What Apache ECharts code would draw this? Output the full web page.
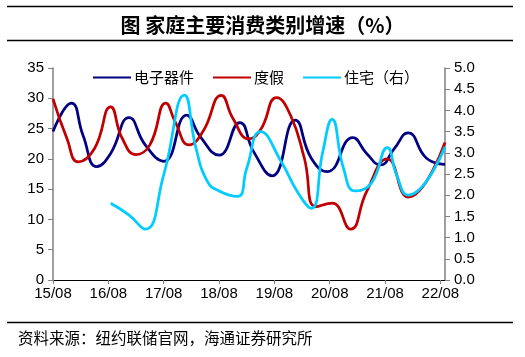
<!DOCTYPE html>
<html>
<head>
<meta charset="utf-8">
<script src="https://cdn.jsdelivr.net/npm/echarts@6/dist/echarts.min.js"></script>
<style>
html,body{margin:0;padding:0;background:#fff;}
#chart{width:525px;height:357px;}
</style>
</head>
<body>
<div id="chart"></div>
<script>
// ---- data ----
var titleText = '图 家庭主要消费类别增速（%）';
var sourceText = '资料来源：纽约联储官网，海通证券研究所';
var seriesNames = ['电子器件', '度假', '住宅（右）'];
var xTickLabels = ['15/08','16/08','17/08','18/08','19/08','20/08','21/08','22/08'];
var leftTicks = [0, 35, 5];
var rightTicks = [0, 5, 0.5];

var elecDates = ['2015-08-01','2015-12-01','2016-02-16','2016-05-16','2016-08-16','2016-12-16','2017-04-01','2017-08-01','2018-01-01','2018-04-01','2018-08-01','2018-12-16','2019-03-16','2019-07-16','2019-12-16','2020-04-01','2020-07-16','2021-01-01','2021-04-01','2021-07-01','2021-10-01','2022-01-01','2022-05-01','2022-09-01'];
var elecValues = [24.5, 29.2, 23.9, 18.7, 20.9, 26.8, 22.3, 19.6, 27.2, 23.6, 20.6, 26.0, 21.2, 17.2, 26.4, 20.1, 17.9, 23.5, 20.9, 19.0, 21.7, 24.3, 20.1, 19.1];

var vacDates = ['2015-08-01','2015-11-01','2016-01-16','2016-05-01','2016-08-16','2016-11-01','2017-02-01','2017-05-01','2017-08-16','2017-10-16','2018-01-16','2018-04-16','2018-08-16','2018-11-01','2019-02-16','2019-05-01','2019-08-16','2019-11-16','2020-02-16','2020-05-01','2020-08-16','2020-12-16','2021-04-01','2021-08-16','2022-01-01','2022-09-01'];
var vacValues = [29.9, 23.4, 19.5, 21.7, 28.6, 23.4, 20.7, 22.3, 29.2, 26.1, 22.3, 24.5, 30.5, 26.7, 23.3, 24.8, 30.1, 27.2, 20.1, 12.1, 12.7, 8.4, 14.6, 20.0, 13.7, 22.7];

var houseDates = ['2016-08-16','2016-12-16','2017-04-01','2017-08-01','2017-12-16','2018-03-01','2018-05-16','2018-08-01','2018-12-01','2019-02-01','2019-05-01','2019-09-16','2020-01-01','2020-04-01','2020-06-16','2020-08-16','2020-11-01','2021-01-16','2021-05-01','2021-08-16','2021-10-16','2022-01-01','2022-09-01'];
var houseValues = [1.81, 1.53, 1.20, 2.48, 4.36, 3.11, 2.32, 2.10, 1.97, 2.63, 3.50, 2.79, 2.08, 1.69, 3.03, 3.79, 2.63, 2.10, 2.28, 3.12, 2.48, 2.00, 3.14];

var axisStart = '2015-08-01';
var axisEnd = '2022-09-01';

// ---- helpers ----
function monthIndex(s) {
  var p = s.split('-').map(Number);
  var b = axisStart.split('-').map(Number);
  return (p[0] - b[0]) * 12 + (p[1] - b[1]) + ((p[2] || 1) - 1) / 30;
}
function pairs(dates, vals) {
  return dates.map(function (d, i) { return [monthIndex(d), vals[i]]; });
}

var cjk = '"Noto Sans CJK SC", sans-serif';
var latin = '"Liberation Sans", Arial, sans-serif';
var colors = ['#000080', '#c00000', '#00ccff'];
var smoothness = 0.5;

var chart = echarts.init(document.getElementById('chart'), null, {renderer: 'canvas'});
chart.setOption({
  animation: false,
  backgroundColor: '#fff',
  title: {
    text: titleText,
    left: 'center',
    top: 10,
    textStyle: {fontFamily: cjk, fontSize: 20, fontWeight: 'bold', color: '#000'}
  },
  graphic: [
    {type: 'line', shape: {x1: 7, y1: 6.5, x2: 513, y2: 6.5}, style: {stroke: '#000', lineWidth: 1.5}},
    {type: 'line', shape: {x1: 7, y1: 40.5, x2: 513, y2: 40.5}, style: {stroke: '#000', lineWidth: 1.5}},
    {type: 'line', shape: {x1: 7, y1: 322.5, x2: 513, y2: 322.5}, style: {stroke: '#000', lineWidth: 1.5}},
    {type: 'text', left: 18, top: 330, style: {text: sourceText, fontFamily: cjk, fontSize: 15.5, fill: '#000'}}
  ],
  legend: {
    left: 88,
    top: 65,
    itemGap: 19,
    itemWidth: 38,
    itemHeight: 2,
    icon: 'rect',
    textStyle: {fontFamily: cjk, fontSize: 15, color: '#000', padding: [0,0,0,-2]},
    data: seriesNames
  },
  grid: {left: 53, right: 80, top: 68, bottom: 77, containLabel: false},
  xAxis: {
    type: 'value',
    min: 0,
    max: monthIndex(axisEnd),
    interval: 12,
    axisLine: {lineStyle: {color: '#000', width: 1}},
    axisTick: {show: true, length: 4, lineStyle: {color: '#808080'}},
    splitLine: {show: false},
    axisLabel: {
      fontFamily: latin, fontSize: 15, color: '#000', margin: 6, showMaxLabel: false,
      formatter: function (v) { return v % 12 === 0 ? (xTickLabels[v / 12] || '') : ''; }
    }
  },
  yAxis: [
    {
      type: 'value', min: leftTicks[0], max: leftTicks[1], interval: leftTicks[2],
      axisLine: {show: true, lineStyle: {color: '#808080', width: 1.5}},
      axisTick: {show: true, length: 5, lineStyle: {color: '#808080'}},
      splitLine: {show: false},
      axisLabel: {fontFamily: latin, fontSize: 15, color: '#000', margin: 9}
    },
    {
      type: 'value', min: rightTicks[0], max: rightTicks[1], interval: rightTicks[2],
      position: 'right',
      axisLine: {show: true, lineStyle: {color: '#808080', width: 1.5}},
      axisTick: {show: true, length: 5, lineStyle: {color: '#808080'}},
      splitLine: {show: false},
      axisLabel: {fontFamily: latin, fontSize: 15, color: '#000', margin: 9,
        formatter: function (v) { return v.toFixed(1); }}
    }
  ],
  series: [
    {name: seriesNames[0], type: 'line', yAxisIndex: 0, smooth: smoothness, showSymbol: false,
     data: pairs(elecDates, elecValues), itemStyle: {color: colors[0]}, lineStyle: {color: colors[0], width: 2.75}},
    {name: seriesNames[1], type: 'line', yAxisIndex: 0, smooth: smoothness, showSymbol: false,
     data: pairs(vacDates, vacValues), itemStyle: {color: colors[1]}, lineStyle: {color: colors[1], width: 2.75}},
    {name: seriesNames[2], type: 'line', yAxisIndex: 1, smooth: smoothness, showSymbol: false,
     data: pairs(houseDates, houseValues), itemStyle: {color: colors[2]}, lineStyle: {color: colors[2], width: 2.75}}
  ]
});
</script>
</body>
</html>
